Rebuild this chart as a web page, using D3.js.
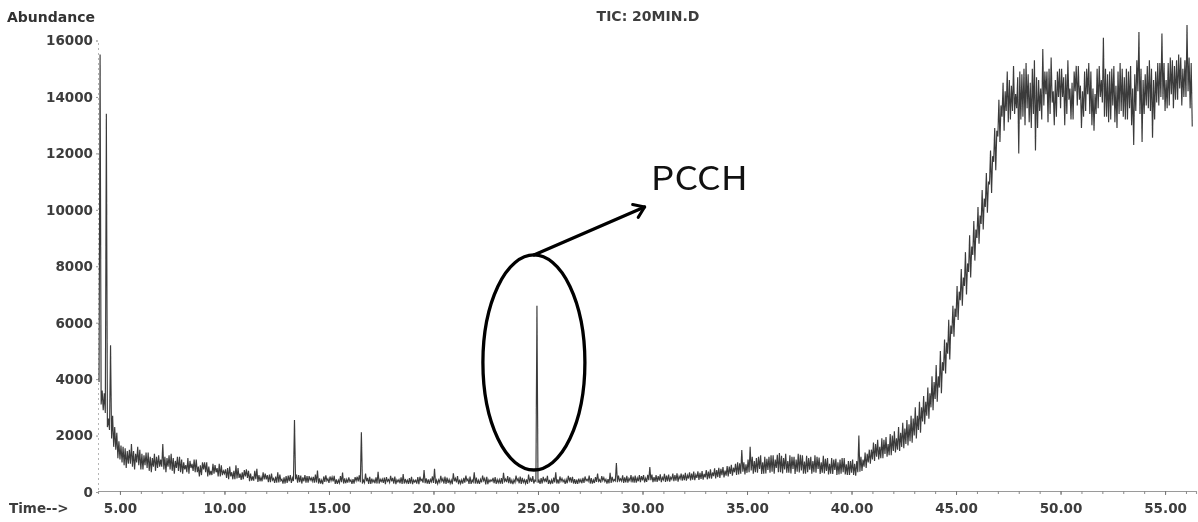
<!DOCTYPE html>
<html>
<head>
<meta charset="utf-8">
<script src="https://cdn.jsdelivr.net/npm/d3@7"></script>
<style>
  html, body { margin: 0; padding: 0; background: #fff; }
  svg { display: block; }
</style>
</head>
<body>
<svg id="chart" width="1198" height="522"></svg>
<script>
// Total ion chromatogram, binned every 0.1 min from 4.0 min.
// Each bin holds two scan readings: one in a "ticSegment" array and the
// other in the matching "ticPair" array. The trace is drawn as a min/max
// envelope, low reading first, then high reading.
const scanStart = 4.0;
const binWidth = 0.1;

// 4.0 – 13.9 min
const ticSegment1 = [
  15500, 3600, 2900, 13400, 2600, 5200, 1900, 2300, 1500, 1800,
  1150, 1600, 950, 1450, 1000, 1700, 900, 1350, 1050, 1500,
  800, 1300, 950, 1400, 750, 1200, 900, 1250, 850, 1150,
  1700, 800, 1200, 900, 1350, 750, 1100, 850, 1250, 700,
  1050, 800, 1200, 650, 1000, 750, 1150, 700, 950, 600,
  1050, 700, 900, 600, 1000, 650, 850, 550, 950, 600,
  800, 500, 900, 550, 750, 450, 850, 500, 700, 450,
  800, 500, 650, 400, 750, 450, 600, 380, 700, 450,
  600, 350, 650, 420, 550, 330, 620, 400, 520, 300,
  580, 380, 500, 2550, 450, 600, 350, 520, 380, 560
];
const ticPair1 = [
  3900, 3100, 3500, 2800, 2300, 2200, 2700, 1600, 2100, 1200,
  1650, 1050, 1550, 850, 1500, 1000, 1450, 800, 1600, 950,
  1350, 800, 1400, 850, 1250, 700, 1350, 750, 1300, 900,
  900, 1250, 700, 1300, 800, 1200, 650, 1250, 750, 1150,
  650, 950, 700, 1100, 850, 1150, 700, 900, 550, 1050,
  800, 1050, 550, 750, 600, 950, 700, 1000, 550, 750,
  650, 850, 450, 700, 450, 950, 480, 650, 430, 780,
  550, 750, 380, 550, 400, 820, 360, 520, 380, 650,
  450, 620, 350, 480, 320, 700, 340, 450, 300, 560,
  320, 600, 320, 390, 620, 330, 580, 300, 600, 330
];

// 14.0 – 23.9 min
const ticSegment2 = [
  330, 500, 380, 620, 340, 480, 300, 550, 360, 470,
  320, 530, 380, 450, 290, 560, 350, 480, 310, 520,
  370, 460, 300, 540, 380, 2120, 420, 330, 500, 290,
  470, 350, 520, 300, 450, 370, 510, 280, 440, 340,
  500, 300, 430, 360, 520, 290, 460, 330, 490, 300,
  420, 350, 530, 280, 450, 330, 480, 300, 440, 360,
  820, 290, 430, 340, 470, 300, 510, 320, 420, 280,
  480, 340, 440, 300, 500, 330, 460, 290, 420, 350,
  510, 300, 450, 340, 480, 270, 430, 360, 500, 310,
  440, 330, 490, 290, 460, 350, 520, 300, 430, 340
];
const ticPair2 = [
  560, 420, 540, 330, 760, 300, 420, 280, 590, 400,
  550, 400, 570, 290, 420, 320, 690, 300, 450, 330,
  430, 290, 530, 400, 590, 350, 300, 650, 380, 540,
  290, 430, 310, 720, 300, 460, 320, 530, 380, 570,
  380, 550, 280, 440, 310, 640, 300, 420, 290, 540,
  280, 420, 300, 540, 400, 780, 310, 450, 290, 550,
  320, 420, 290, 570, 380, 550, 290, 440, 300, 660,
  380, 560, 280, 430, 300, 580, 400, 550, 290, 700,
  300, 420, 290, 580, 400, 540, 280, 430, 380, 530,
  290, 440, 300, 680, 380, 560, 310, 420, 280, 580
];

// 24.0 – 33.9 min (PCCH elutes at 24.9 min)
const ticSegment3 = [
  470, 310, 500, 340, 450, 290, 480, 360, 420, 6600,
  330, 490, 300, 460, 350, 430, 280, 510, 340, 450,
  300, 480, 360, 440, 310, 520, 330, 460, 290, 470,
  350, 500, 320, 450, 380, 490, 300, 530, 360, 440,
  330, 510, 370, 460, 310, 540, 380, 1030, 350, 470,
  390, 520, 340, 480, 400, 550, 330, 500, 380, 560,
  410, 490, 360, 880, 420, 530, 370, 560, 400, 510,
  430, 580, 380, 520, 450, 600, 400, 560, 470, 620,
  420, 590, 480, 650, 440, 610, 500, 680, 460, 640,
  520, 720, 480, 690, 560, 780, 530, 820, 600, 760
];
const ticPair3 = [
  400, 550, 290, 430, 300, 620, 380, 560, 300, 380,
  420, 290, 540, 380, 570, 290, 430, 300, 700, 300,
  550, 380, 430, 290, 570, 400, 540, 300, 440, 290,
  440, 310, 550, 400, 580, 300, 430, 320, 650, 380,
  560, 410, 450, 300, 680, 320, 440, 390, 580, 400,
  590, 320, 570, 330, 600, 340, 580, 330, 600, 350,
  600, 340, 610, 420, 620, 350, 600, 360, 630, 350,
  640, 360, 620, 370, 650, 380, 660, 370, 650, 400,
  680, 400, 700, 410, 720, 420, 730, 430, 740, 440,
  780, 450, 800, 470, 840, 480, 860, 500, 880, 520
];

// 34.0 – 43.9 min
const ticSegment4 = [
  580, 900, 640, 860, 700, 1050, 620, 1490, 720, 980,
  680, 1600, 760, 1100, 700, 1250, 820, 1050, 650, 1180,
  780, 1300, 720, 1150, 850, 1380, 700, 1200, 800, 1100,
  680, 1250, 820, 1150, 720, 1320, 760, 1080, 650, 1200,
  790, 1100, 700, 1250, 820, 1050, 680, 1180, 750, 1000,
  650, 1150, 780, 1050, 620, 1200, 700, 980, 600, 1100,
  680, 1000, 580, 2000, 720, 1150, 900, 1350, 1050, 1500,
  1150, 1700, 1250, 1600, 1200, 1850, 1350, 1700, 1300, 2000,
  1450, 1900, 1500, 2100, 1600, 2250, 1700, 2400, 1800, 2600,
  2000, 2700, 2200, 3000, 2500, 3200, 2700, 3500, 3000, 3900
];
const ticPair4 = [
  920, 550, 960, 580, 1000, 600, 1020, 650, 1050, 620,
  1150, 700, 1250, 650, 1200, 680, 1300, 640, 1250, 660,
  1250, 680, 1300, 650, 1320, 700, 1280, 660, 1350, 680,
  1300, 660, 1250, 640, 1350, 690, 1300, 650, 1280, 700,
  1250, 650, 1300, 680, 1220, 640, 1280, 660, 1200, 620,
  1200, 640, 1180, 600, 1150, 650, 1200, 620, 1100, 600,
  1150, 600, 1100, 700, 1250, 750, 1400, 850, 1500, 1000,
  1750, 1100, 1850, 1150, 1900, 1200, 1950, 1250, 2050, 1300,
  2150, 1400, 2300, 1450, 2450, 1550, 2550, 1650, 2700, 1750,
  3000, 1900, 3200, 2100, 3400, 2400, 3700, 2600, 4100, 2900
];

// 44.0 – 53.9 min
const ticSegment5 = [
  3300, 4100, 3700, 4600, 4300, 5300, 4900, 5900, 5600, 6500,
  6200, 7100, 6800, 7600, 7300, 8100, 7800, 8700, 8400, 9300,
  9000, 9800, 9500, 10400, 10100, 11000, 10900, 11900, 11700, 12800,
  12600, 13700, 13300, 14200, 13500, 14600, 13200, 15100, 13400, 14700,
  12000, 14800, 13300, 15200, 13600, 14500, 12900, 15300, 12100, 14600,
  13500, 15700, 13700, 14900, 13100, 15400, 13800, 14600, 13300, 15000,
  13600, 14700, 13000, 15300, 13900, 14500, 13200, 15100, 13700, 14400,
  12900, 14900, 13500, 15200, 13400, 14300, 12800, 15000, 13600, 14600,
  16100, 13300, 14800, 13100, 15000, 13700, 14400, 12900, 15200, 13500,
  14700, 13200, 14900, 13600, 14300, 12300, 15300, 16300, 13400, 12400
];
const ticPair5 = [
  4500, 3200, 5000, 3500, 5400, 4200, 6100, 4700, 6600, 5500,
  7300, 6100, 7900, 6600, 8500, 7000, 9100, 7600, 9600, 8200,
  10100, 8800, 10700, 9300, 11300, 9900, 12100, 10600, 12900, 11400,
  13900, 12400, 14500, 12800, 14900, 13100, 14400, 13500, 14100, 13600,
  14900, 13200, 15000, 13000, 14800, 13100, 15000, 13400, 14700, 12900,
  14300, 13200, 14900, 14100, 15000, 13400, 14200, 13000, 14900, 14000,
  15000, 14000, 14800, 13400, 14300, 13200, 14900, 14200, 15100, 13900,
  14200, 13300, 15000, 14100, 14900, 13000, 14100, 13400, 15100, 14000,
  13800, 15000, 13300, 14900, 13200, 15100, 13100, 14900, 13400, 15000,
  13300, 15000, 13200, 15100, 13000, 14800, 13500, 14200, 15000, 14600
];

// 54.0 – 56.3 min
const ticSegment6 = [
  14800, 13700, 15300, 13500, 12550, 14900, 13800, 15200, 16250, 13900,
  14600, 13600, 15400, 14100, 15100, 13900, 15500, 14300, 15000, 14000,
  16550, 14200, 15200, 12950
];
const ticPair6 = [
  13400, 15100, 13600, 15000, 14600, 13200, 15200, 13700, 14000, 15200,
  13500, 15200, 13700, 15300, 13600, 15300, 13900, 15400, 13700, 15300,
  14000, 15400, 13600
];

const yTickValues = [0, 2000, 4000, 6000, 8000, 10000, 12000, 14000, 16000];
const xTickValues = [5, 10, 15, 20, 25, 30, 35, 40, 45, 50, 55];

// Annotation: PCCH peak
const peakLabel = "PCCH";
const peakTime = 24.9;
const ringLow = 780, ringHigh = 8400;       // abundance span enclosed by the ring
const arrowTip = { t: 30.1, v: 10100 };
const labelAnchor = { t: 30.4, v: 10700 };

const titleText = "TIC: 20MIN.D";
const yTitle = "Abundance";
const xTitle = "Time-->";

// ---------------------------------------------------------------
const binFirst = [].concat(ticSegment1, ticSegment2, ticSegment3,
                           ticSegment4, ticSegment5, ticSegment6);
const binSecond = [].concat(ticPair1, ticPair2, ticPair3,
                            ticPair4, ticPair5, ticPair6);
const trace = [];
binFirst.forEach((a, i) => {
  const t = scanStart + i * binWidth;
  if (i < binSecond.length) {
    const b = binSecond[i];
    trace.push({ t, v: Math.min(a, b) });
    trace.push({ t: t + binWidth / 2, v: Math.max(a, b) });
  } else {
    trace.push({ t, v: a });
  }
});

const svg = d3.select("#chart");
const x = d3.scaleLinear().domain([3.95, 56.48]).range([98, 1196]);
const y = d3.scaleLinear().domain([0, 16000]).range([492, 40.5]);

const defs = svg.append("defs");
defs.append("filter").attr("id", "soft")
  .append("feGaussianBlur").attr("stdDeviation", 0.45);
defs.append("marker")
  .attr("id", "chev")
  .attr("viewBox", "-12 -9 14 18")
  .attr("refX", 0).attr("refY", 0)
  .attr("markerWidth", 14).attr("markerHeight", 18)
  .attr("markerUnits", "userSpaceOnUse")
  .attr("orient", "auto")
  .append("path")
  .attr("d", "M-10,-7 L0,0 L-10,7")
  .attr("fill", "none")
  .attr("stroke", "#000")
  .attr("stroke-width", 3)
  .attr("stroke-linecap", "round")
  .attr("stroke-linejoin", "round");

const textFont = "'DejaVu Sans', Arial, sans-serif";
const plot = svg.append("g").attr("filter", "url(#soft)");

// Axes
const xAxisY = y(0) - 1;
const minor = plot.append("g")
  .attr("transform", `translate(0,${xAxisY})`)
  .call(d3.axisBottom(x).tickValues(d3.range(5, 57, 1)).tickFormat("").tickSize(3));
minor.select(".domain").attr("stroke", "#9a9a9a").attr("stroke-width", 1.1);
minor.selectAll(".tick line").attr("stroke", "#8a8a8a");

const xAxis = plot.append("g")
  .attr("transform", `translate(0,${xAxisY})`)
  .call(d3.axisBottom(x).tickValues(xTickValues)
    .tickFormat(d3.format(".2f")).tickSize(4).tickPadding(8));
xAxis.select(".domain").remove();
xAxis.selectAll(".tick line").attr("stroke", "#777");
xAxis.selectAll("text")
  .attr("font-family", textFont).attr("font-weight", "bold")
  .attr("font-size", 13.5).attr("fill", "#3c3c3c");

const yAxis = plot.append("g")
  .attr("transform", `translate(98,0)`)
  .call(d3.axisLeft(y).tickValues(yTickValues)
    .tickFormat(d3.format("d")).tickSize(2).tickPadding(3));
yAxis.select(".domain")
  .attr("stroke", "#b5b5b5").attr("stroke-dasharray", "2,3");
yAxis.selectAll(".tick line").attr("stroke", "#999");
yAxis.selectAll("text")
  .attr("font-family", textFont).attr("font-weight", "bold")
  .attr("font-size", 13.5).attr("fill", "#3c3c3c");

// Titles
plot.append("text").text(yTitle)
  .attr("x", 7).attr("y", 22)
  .attr("font-family", textFont).attr("font-weight", "bold")
  .attr("font-size", 14).attr("fill", "#333");
plot.append("text").text(titleText)
  .attr("x", 648).attr("y", 21).attr("text-anchor", "middle")
  .attr("font-family", textFont).attr("font-weight", "bold")
  .attr("font-size", 14).attr("fill", "#3c3c3c");
plot.append("text").text(xTitle)
  .attr("x", 9).attr("y", 513)
  .attr("font-family", textFont).attr("font-weight", "bold")
  .attr("font-size", 13.5).attr("fill", "#3c3c3c");

// Chromatogram trace
const line = d3.line().x(d => x(d.t)).y(d => y(d.v));
plot.append("path")
  .datum(trace)
  .attr("d", line)
  .attr("fill", "none")
  .attr("stroke", "#1a1a1a")
  .attr("stroke-width", 1.15)
  .attr("stroke-linejoin", "miter")
  .attr("stroke-opacity", 0.85);

// Peak annotation
const ring = svg.append("g");
const ringTop = y(ringHigh), ringBottom = y(ringLow);
const ringCx = x(peakTime) - 2;
ring.append("ellipse")
  .attr("cx", ringCx)
  .attr("cy", (ringTop + ringBottom) / 2)
  .attr("rx", 51)
  .attr("ry", (ringBottom - ringTop) / 2)
  .attr("fill", "none")
  .attr("stroke", "#000")
  .attr("stroke-width", 3.3);

ring.append("line")
  .attr("x1", ringCx).attr("y1", ringTop)
  .attr("x2", x(arrowTip.t)).attr("y2", y(arrowTip.v))
  .attr("stroke", "#000").attr("stroke-width", 3.3)
  .attr("stroke-linecap", "round")
  .attr("marker-end", "url(#chev)");

ring.append("text").text(peakLabel)
  .attr("x", x(labelAnchor.t)).attr("y", y(labelAnchor.v))
  .attr("font-family", "'Noto Sans CJK KR', 'Noto Sans', sans-serif")
  .attr("font-size", 33)
  .attr("textLength", 97)
  .attr("lengthAdjust", "spacingAndGlyphs")
  .attr("fill", "#111");
</script>
</body>
</html>
